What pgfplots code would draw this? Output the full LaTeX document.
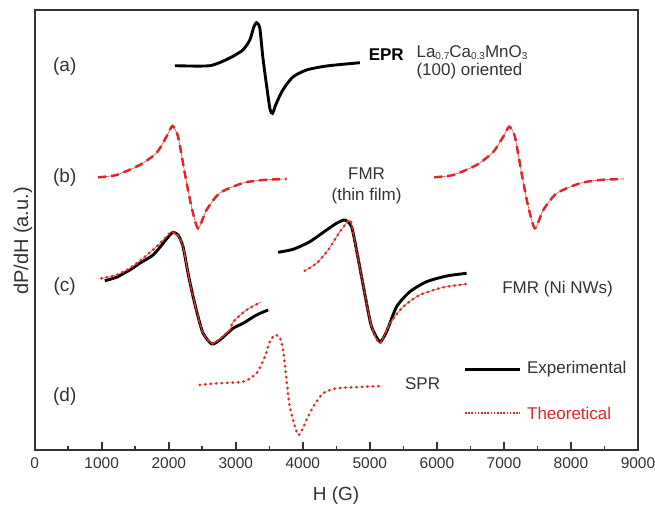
\documentclass[border=0pt]{standalone}
\usepackage{pgfplots}
\pgfplotsset{compat=1.18}
\usepackage{pgfplotstable}
\usepackage{fontspec}
\setmainfont{Liberation Sans}
\definecolor{thred}{RGB}{220,40,40}
\definecolor{axgray}{RGB}{51,51,51}

% (a) EPR, La0.7Ca0.3MnO3
\pgfplotstableread{
H y
2090 384.3
2612 384.3
2910 392
3104 400
3209 410
3269 423
3309 427.3
3358 422
3403 393
3458 365
3510 341
3548 336.7
3600 346
3701 360
3851 373
4055 380
4354 384
4851 387.3
}\epra

% (b) FMR thin film, two resonances
\pgfplotstableread{
H y
945 272.7
1219 275
1567 285
1816 297
1966 313.3
2055 324
2139 313.3
2239 277
2339 243.3
2437 221.7
2563 240
2761 257
3109 267
3407 270
3757 271
}\fmrba

\pgfplotstableread{
H y
5960 272.7
6243 275
6592 285
6840 298
6990 313.3
7079 323.3
7164 313.3
7264 276.7
7363 243.3
7463 221.7
7587 240
7787 256.7
8134 266.7
8433 270
8781 271
}\fmrbb

% (c) FMR Ni NWs, experimental
\pgfplotstableread{
H y
1045 169.3
1219 172.7
1418 180
1567 186.7
1766 195
1915 206.7
2015 215
2064 217.7
2139 215
2213 203.3
2288 176.7
2363 153.3
2437 133.3
2512 116.7
2640 106
2761 110
2960 121.7
3109 126.7
3309 135
3482 140
}\expca

\pgfplotstableread{
H y
3631 197.7
3855 200.7
4104 208.3
4354 220
4503 226.7
4627 230
4727 223.3
4801 200
4876 173.3
4951 146.7
5025 123.3
5149 108.3
5249 118.3
5399 143.3
5597 158.3
5846 168.3
6145 174
6443 176.7
}\expcb

% (c) FMR Ni NWs, theoretical
\pgfplotstableread{
H y
996 171.7
1219 175
1418 181.7
1616 191.7
1816 203.3
1966 213.3
2040 218.3
2139 214
2213 203
2288 176.7
2363 153.3
2437 133.3
2512 116.7
2640 106.5
2761 111
2910 120
2960 128.3
3160 140
3383 148.3
}\thca

\pgfplotstableread{
H y
4030 179.3
4204 186.7
4378 200
4503 213.3
4627 225
4712 229.3
4801 200
4876 173.3
4951 146.7
5025 123.3
5149 106.7
5299 126.7
5498 143.3
5746 155
6094 162.7
6443 166
}\thcb

% (d) SPR, theoretical
\pgfplotstableread{
H y
2463 65
2712 66.7
3109 68.3
3309 76.7
3433 93.3
3507 108.3
3582 115
3657 112.7
3706 100
3757 70
3806 43.3
3930 15
4055 30
4154 43.3
4303 56.7
4503 61.7
4851 63
5199 64
}\sprd

\pgfplotsset{
  expline/.style={black, line width=2.9pt, smooth, tension=0.4},
  thinred/.style={thred!75, line width=0.7pt, smooth, tension=0.4},
  dashred/.style={thred, line width=2.5pt, dash pattern=on 8pt off 5pt, smooth, tension=0.4},
  dotred/.style={thred, line width=3pt, line cap=round, dash pattern=on 0pt off 5.5pt, smooth, tension=0.4},
}
\newcommand\lbl{\fontsize{19}{22}\selectfont}
\newcommand\ann{\fontsize{17}{20}\selectfont}

\begin{document}
\begin{tikzpicture}
\begin{axis}[
  at={(0pt,0pt)}, anchor=south west,
  scale only axis, width=603.3pt, height=440pt,
  xmin=0, xmax=9000, ymin=0, ymax=440,
  xtick={0,1000,...,9000}, minor x tick num=1,
  ytick=\empty, xtick pos=bottom, tick align=inside,
  major tick length=8pt, minor tick length=4pt,
  every tick/.style={axgray, line width=1.6pt},
  axis line style={axgray, line width=1.8pt},
  scaled x ticks=false,
  /pgf/number format/1000 sep={},
  /pgf/number format/assume math mode=true,
  x tick label style={font=\fontsize{15.5}{18}\selectfont, text=axgray, yshift=-4pt},
  xlabel={H (G)}, ylabel={dP/dH (a.u.)},
  x label style={font=\fontsize{19}{22}\selectfont, text=axgray, at={(axis description cs:0.4995,-0.104)}, anchor=center},
  y label style={font=\fontsize{20}{23}\selectfont, text=axgray, at={(axis description cs:-0.0194,0.475)}, anchor=center},
  clip=false,
]
% (a)
\addplot[expline] table {\epra};
% (b)
\addplot[thinred] table {\fmrba};
\addplot[dashred] table {\fmrba};
\addplot[thinred] table {\fmrbb};
\addplot[dashred] table {\fmrbb};
% (c)
\addplot[expline] table {\expca};
\addplot[expline] table {\expcb};
\addplot[thinred] table {\thca};
\addplot[dotred] table {\thca};
\addplot[thinred] table {\thcb};
\addplot[dotred] table {\thcb};
% (d)
\addplot[thred!35, line width=0.5pt, smooth, tension=0.4] table {\sprd};
\addplot[dotred] table {\sprd};

% panel letters
\node[font=\lbl, text=axgray] at (axis cs:448,383) {(a)};
\node[font=\lbl, text=axgray] at (axis cs:448,272) {(b)};
\node[font=\lbl, text=axgray] at (axis cs:448,163) {(c)};
\node[font=\lbl, text=axgray] at (axis cs:448,53) {(d)};

% annotations
\node[font=\ann\bfseries] at (axis cs:5245,395) {EPR};
\node[font=\ann, text=axgray, anchor=west, inner sep=0pt] at (axis cs:5694,397)
  {La{\fontsize{10}{10}\selectfont\raisebox{-0.35ex}{0.7}}Ca{\fontsize{10}{10}\selectfont\raisebox{-0.35ex}{0.3}}MnO{\fontsize{10}{10}\selectfont\raisebox{-0.35ex}{3}}};
\node[font=\ann, text=axgray, anchor=west, inner sep=0pt] at (axis cs:5694,379) {(100) oriented};
\node[font=\ann, text=axgray] at (axis cs:4951,276.7) {FMR};
\node[font=\ann, text=axgray] at (axis cs:4951,254) {(thin film)};
\node[font=\ann, text=axgray] at (axis cs:7800,161.3) {FMR (Ni NWs)};
\node[font=\ann, text=axgray] at (axis cs:5787,66.7) {SPR};

% legend
\draw[black, line width=3.6pt] (axis cs:6418,80.7) -- (axis cs:7239,80.7);
\node[font=\ann, text=axgray, anchor=west, inner sep=0pt] at (axis cs:7343,81) {Experimental};
\draw[thred, line width=2.2pt, dash pattern=on 1.6pt off 1.6pt] (axis cs:6418,36.7) -- (axis cs:7239,36.7);
\node[font=\ann, text=thred, anchor=west, inner sep=0pt] at (axis cs:7343,36.7) {Theoretical};
\end{axis}
\pgfresetboundingbox
\useasboundingbox (-34.7pt,-56pt) rectangle (620.3pt,450pt);
\end{tikzpicture}
\end{document}
